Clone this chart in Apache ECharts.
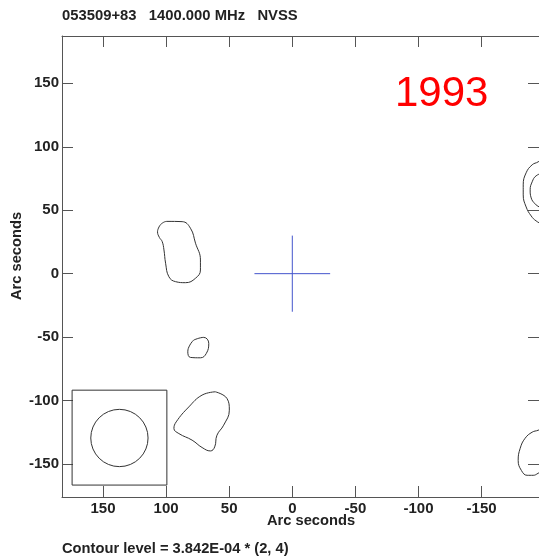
<!DOCTYPE html>
<html>
<head>
<meta charset="utf-8">
<script src="https://cdn.jsdelivr.net/npm/echarts@6/dist/echarts.min.js"></script>
<style>
html,body{margin:0;padding:0;background:#fff;}
#chart{width:539px;height:556px;}
</style>
</head>
<body>
<div id="chart"></div>
<script>
// ---- data ----
const xTicks = [150, 100, 50, 0, -50, -100, -150];
const yTicks = [150, 100, 50, 0, -50, -100, -150];
const xRange = [-195.5, 182.5];
const yRange = [-176, 187.3];

const titleText = '053509+83   1400.000 MHz   NVSS';
const yearText = '1993';
const contourText = 'Contour level = 3.842E-04 * (2, 4)';
const axisTitle = 'Arc seconds';

const contourA = [[104.5,38.6],[99.5,41.2],[87.3,41.0],[80.7,35.8],[76.7,24.0],[72.8,10.8],[72.8,2.9],[76.7,-3.6],[84.6,-7.1],[92.5,-6.3],[97.8,-2.4],[100.4,8.2],[101.7,18.7],[103.1,25.3],[105.3,28.5],[106.8,33.0],[104.5,38.6]];
const contourB = [[78.1,-52.3],[70.2,-50.2],[66.2,-54.9],[68.1,-62.8],[72.8,-66.3],[80.7,-66.0],[82.8,-61.6],[81.2,-56.3],[78.1,-52.3]];
const contourC = [[61.0,-93.1],[51.8,-98.3],[49.9,-107.6],[54.4,-119.4],[59.7,-127.3],[61.5,-136.5],[64.9,-139.7],[71.5,-137.0],[79.4,-131.2],[89.9,-126.0],[93.8,-122.0],[92.0,-116.8],[82.0,-105.0],[71.5,-95.7],[61.0,-93.1]];
const contourEdgeOuter = [[-200,92],[-194.8,88.1],[-190.1,85.8],[-185.3,79.5],[-183.0,70.0],[-183.0,62.1],[-185.3,52.6],[-189.3,45.5],[-193.2,41.6],[-198,39.2],[-204,38]];
const contourEdgeInner = [[-200,80],[-193.2,77.1],[-190.1,72.4],[-188.5,66.1],[-189.3,59.7],[-192.4,55.0],[-195.6,52.6],[-200,50]];
const contourEdgeLow = [[-200,-121],[-194.8,-123.4],[-190.1,-124.9],[-184.5,-129.7],[-180.6,-137.6],[-179.0,-147.1],[-181.5,-155.0],[-186.1,-158.9],[-190.9,-158.9],[-194.8,-157.3],[-200,-154]];

const crossH = [[30,0],[-30,0]];
const crossV = [[0,30],[0,-30]];

const beamBox = [[174.5,-91.8],[99.4,-91.8],[99.4,-166.6],[174.5,-166.6],[174.5,-91.8]];
const beam = [[137.0, -129.5, 22.7]]; // centre x, centre y, radius (arcsec)

// ---- chart ----
const chart = echarts.init(document.getElementById('chart'), null, {renderer: 'canvas'});
const axisColor = '#555';
const contourColor = '#333';
const labelFont = {fontFamily: 'Liberation Sans', fontWeight: 'bold', fontSize: 15, color: '#222'};

function xAxisDef(pos, showLabel) {
  return {
    type: 'value', position: pos, inverse: true, min: xRange[0], max: xRange[1],
    axisLine: {show: true, onZero: false, lineStyle: {color: axisColor, width: 1}},
    axisTick: {show: true, inside: true, length: 11, customValues: xTicks, lineStyle: {color: axisColor}},
    axisLabel: Object.assign({show: showLabel, margin: 4, customValues: xTicks}, labelFont),
    splitLine: {show: false}
  };
}
function yAxisDef(pos, showLabel) {
  return {
    type: 'value', position: pos, min: yRange[0], max: yRange[1],
    axisLine: {show: true, onZero: false, lineStyle: {color: axisColor, width: 1}},
    axisTick: {show: true, inside: true, length: 11, customValues: yTicks, lineStyle: {color: axisColor}},
    axisLabel: Object.assign({show: showLabel, margin: 3, customValues: yTicks}, labelFont),
    splitLine: {show: false}
  };
}

function lineSeries(data, color, smooth) {
  return {
    type: 'line', data: data, xAxisIndex: 0, yAxisIndex: 0,
    symbol: 'none', smooth: smooth, clip: true, silent: true, animation: false,
    lineStyle: {color: color, width: 1}
  };
}

const option = {
  animation: false,
  backgroundColor: '#fff',
  grid: {left: 62, top: 36, width: 480, height: 461, containLabel: false},
  xAxis: [xAxisDef('bottom', true), xAxisDef('top', false)],
  yAxis: [yAxisDef('left', true), yAxisDef('right', false)],
  graphic: [
    {type: 'text', left: 62, top: 8, style: {text: titleText, font: 'bold 14.8px "Liberation Sans"', fill: '#222'}},
    {type: 'text', x: 395, y: 94, style: {text: yearText, font: '42px "Liberation Sans"', fill: '#ff0000', textVerticalAlign: 'middle'}},
    {type: 'text', x: 311, y: 521, style: {text: axisTitle, font: 'bold 14.7px "Liberation Sans"', fill: '#222', textAlign: 'center', textVerticalAlign: 'middle'}},
    {type: 'text', x: 17, y: 256, rotation: Math.PI / 2, style: {text: axisTitle, font: 'bold 14.7px "Liberation Sans"', fill: '#222', textAlign: 'center', textVerticalAlign: 'middle'}},
    {type: 'text', left: 62, top: 541, style: {text: contourText, font: 'bold 14.7px "Liberation Sans"', fill: '#222'}}
  ],
  series: [
    lineSeries(contourA, contourColor, 0.45),
    lineSeries(contourB, contourColor, 0.45),
    lineSeries(contourC, contourColor, 0.45),
    lineSeries(contourEdgeOuter, contourColor, 0.45),
    lineSeries(contourEdgeInner, contourColor, 0.45),
    lineSeries(contourEdgeLow, contourColor, 0.45),
    lineSeries(crossH, '#4455cc', false),
    lineSeries(crossV, '#4455cc', false),
    lineSeries(beamBox, contourColor, false),
    {
      type: 'custom', silent: true, animation: false, clip: true,
      data: beam,
      renderItem: function (params, api) {
        const c = api.coord([api.value(0), api.value(1)]);
        const r = api.size([api.value(2), 0])[0];
        return {type: 'circle', shape: {cx: c[0], cy: c[1], r: r}, style: {fill: 'none', stroke: contourColor, lineWidth: 1}};
      }
    }
  ]
};
chart.setOption(option);
</script>
</body>
</html>
